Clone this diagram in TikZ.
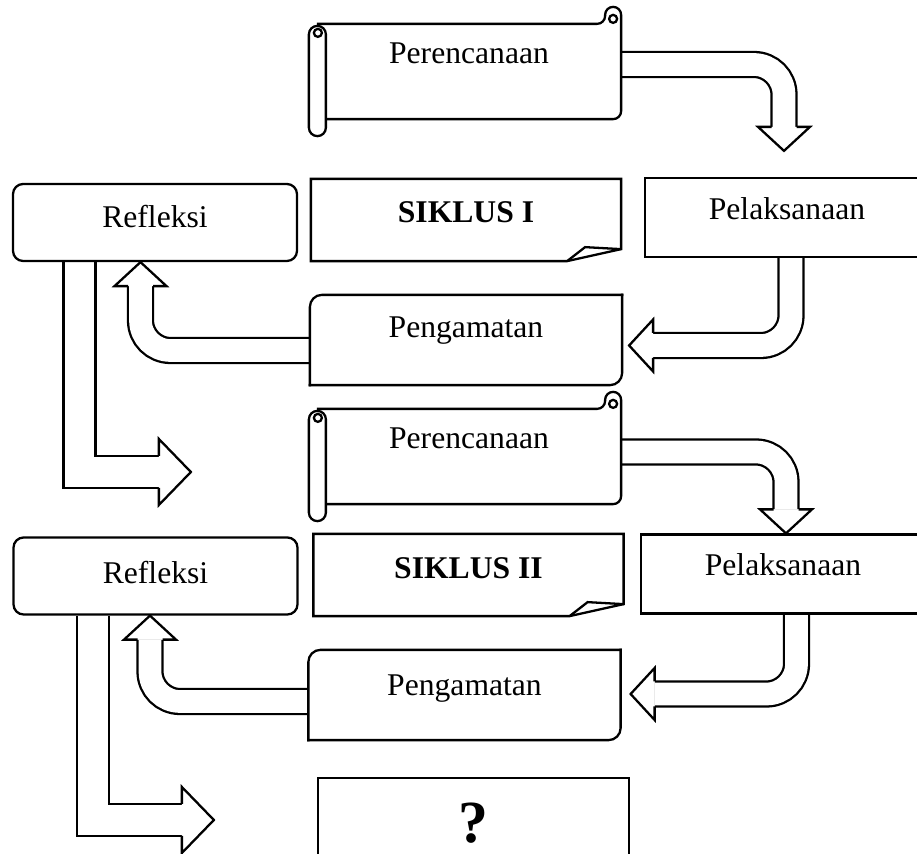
\documentclass[tikz,border=0pt]{standalone}
\usepackage{fontspec}
\setmainfont{Liberation Serif}
\usetikzlibrary{backgrounds}
\tikzset{
    plan/.style={rectangle, minimum width=6.04cm, minimum height=1.86cm, text centered, text height=0.42cm},
    siklus/.style={rectangle, minimum width=6.16cm, minimum height=1.6cm, text centered, text height=0.42cm, font=\fontsize{18}{22}\selectfont\bfseries},
    act/.style={draw, rectangle, minimum width=5.68cm, minimum height=1.58cm, text centered, text height=0.42cm},
    observe/.style={rectangle, minimum width=6.2cm, minimum height=1.76cm, text centered, text height=0.42cm},
    reflect/.style={draw, rectangle, rounded corners=0.2cm, minimum width=5.68cm, minimum height=1.54cm, text centered, text height=0.42cm},
    ask/.style={draw, rectangle, minimum width=6.22cm, minimum height=2.04cm, text centered, text height=0.8cm, text depth=0.24cm, font=\fontsize{34}{40}\selectfont\bfseries},
    flow/.style={line width=1.3pt, double, double distance=0.454cm, rounded corners=0.6cm},
    bigflow/.style={line width=1.3pt, double, double distance=0.594cm},
    pics/head/.style={code={\draw[line width=1.3pt, fill=white] (-24,12.5) -- (-24,26) -- (0,0) -- (-24,-26) -- (-24,-12.5);}},
    pics/bighead/.style={code={\draw[line width=1.3pt, fill=white] (-32,16) -- (-32,33) -- (0,0) -- (-32,-33) -- (-32,-16);}}
}

\begin{document}
\begin{tikzpicture}[x=0.02cm, y=-0.02cm, line width=1.3pt, font=\fontsize{18}{22}\selectfont]
    \useasboundingbox (0,0) rectangle (917,854);

    % siklus I
    \node[plan, text depth=0.72cm] (per1) at (469,71.5) {Perencanaan};
    \node[siklus, text depth=0.3cm] (sik1) at (466,220) {SIKLUS I};
    \node[act, text depth=0.32cm] (pel1) at (787,217.5) {Pelaksanaan};
    \node[observe, text depth=0.52cm] (pen1) at (466,340) {Pengamatan};
    \node[reflect, text depth=0.2cm] (ref1) at (155,222.5) {Refleksi};

    % siklus II
    \node[plan, text depth=0.72cm] (per2) at (469,456.5) {Perencanaan};
    \node[siklus, text depth=0.28cm] (sik2) at (468.5,575) {SIKLUS II};
    \node[act, text depth=0.36cm] (pel2) at (783,574) {Pelaksanaan};
    \node[observe, text depth=0.4cm] (pen2) at (464.5,695) {Pengamatan};
    \node[reflect, text depth=0.12cm] (ref2) at (155.5,576) {Refleksi};

    \node[ask] (qbox) at (473.5,829) {?};

    % outlines
    \foreach \n in {per1,per2} {
        \draw[rounded corners=0.16cm] (\n.north west) -- ([shift={(-16,0)}]\n.north east) -- ([shift={(-16,-17)}]\n.north east) -- ([shift={(0,-17)}]\n.north east) -- (\n.south east) -- (\n.south west);
        \draw ([shift={(-8,-5)}]\n.north east) circle[radius=0.08cm];
        \draw[fill=white, rounded corners=0.17cm] ([shift={(-8,2)}]\n.north west) rectangle ([shift={(9,17)}]\n.south west);
        \draw ([shift={(1,9)}]\n.north west) circle[radius=0.08cm];
    }
    \foreach \n in {sik1,sik2} {
        \draw (\n.north west) -- (\n.north east) -- ([shift={(0,-12)}]\n.south east) -- ([shift={(-54,0)}]\n.south east) -- (\n.south west) -- cycle;
        \draw ([shift={(-54,0)}]\n.south east) -- ([shift={(-36,-14)}]\n.south east) -- ([shift={(0,-12)}]\n.south east);
    }
    \foreach \n in {pen1,pen2} {
        \draw[rounded corners=0.24cm, line cap=rect] (\n.north east) -- (\n.north west) -- (\n.south west);
        \draw[rounded corners=0.24cm, line cap=rect] (\n.south west) -- (\n.south east) -- (\n.north east);
    }

    % arrow tips
    \coordinate (t1) at ([shift={(-3,-26)}]pel1.north);
    \coordinate (t2) at ([shift={(7,5.5)}]pen1.east);
    \coordinate (t3) at ([shift={(-14.5,0)}]ref1.south);
    \coordinate (t4) at ([shift={(-126,15.5)}]per2.west);
    \coordinate (t5) at ([shift={(3,0)}]pel2.north);
    \coordinate (t6) at ([shift={(10,-1)}]pen2.east);
    \coordinate (t7) at ([shift={(-5.5,0)}]ref2.south);
    \coordinate (t8) at ([shift={(-103,-9)}]qbox.west);

    \begin{scope}[on background layer]
        \draw[flow] ([shift={(0,-7)}]per1.east) -| ([shift={(0,-24)}]t1);
        \draw[flow] ([shift={(4,0)}]pel1.south) |- ([shift={(24,0)}]t2);
        \draw[flow] ([shift={(0,10.5)}]pen1.west) -| ([shift={(0,24)}]t3);
        \draw[bigflow] ([shift={(-75.5,0)}]ref1.south) |- ([shift={(-32,0)}]t4);
        \draw[flow] ([shift={(0,-4.5)}]per2.east) -| ([shift={(0,-24)}]t5);
        \draw[flow] ([shift={(13.5,0)}]pel2.south) |- ([shift={(24,0)}]t6);
        \draw[flow] ([shift={(0,6.5)}]pen2.west) -| ([shift={(0,24)}]t7);
        \draw[bigflow] ([shift={(-62.5,0)}]ref2.south) |- ([shift={(-32,0)}]t8);

        \pic[rotate=-90] at (t1) {head};
        \pic[rotate=180] at (t2) {head};
        \pic[rotate=90] at (t3) {head};
        \pic at (t4) {bighead};
        \pic[rotate=-90] at (t5) {head};
        \pic[rotate=180] at (t6) {head};
        \pic[rotate=90] at (t7) {head};
        \pic at (t8) {bighead};
    \end{scope}
\end{tikzpicture}
\end{document}
